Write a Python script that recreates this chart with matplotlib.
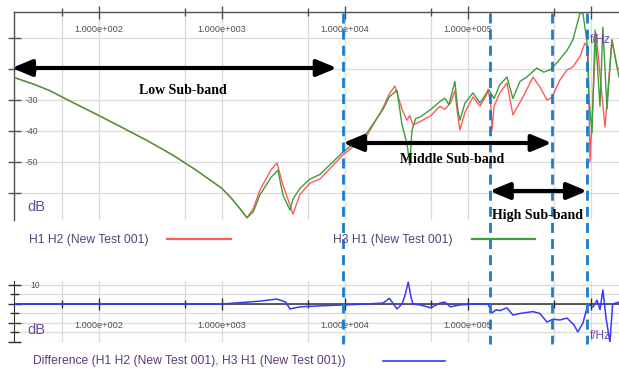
import matplotlib
matplotlib.use("Agg")
import matplotlib.pyplot as plt
from matplotlib.transforms import blended_transform_factory

# H1 H2 (rot) und H3 H1 (gruen), Frequenz in Hz, Pegel in dB
h1h2_freq = [20, 30, 40, 60, 100, 150, 250, 400, 600, 800, 1000, 1200, 1400, 1597, 1800, 2037,
             2500, 2800, 3133, 3573, 3777,
             4305, 5190, 6260, 9640, 15100, 20400, 22900, 25500, 29100, 31900, 33700, 35700,
             40700, 50000, 59200, 64800, 72000, 78300, 82600, 86100, 94500, 109900, 125300,
             141000, 145600, 153000, 156800, 163000, 182000, 207500, 232000, 280000, 337600,
             384700, 438500, 480000, 559700, 638000, 713000, 814400, 893700, 946000, 982000,
             1100000, 1300000, 1480000, 1630000, 1690000]
h1h2_db = [-22.6, -25.0, -27.0, -30.6, -35.0, -38.6, -43.2, -47.8, -52.3, -55.8, -58.5, -61.8,
           -65.0, -68, -65, -59, -52.6, -50.3, -57.4,
           -63.9, -66.8, -60.5, -56.8, -55.5, -47.7, -41.5, -32.5, -28, -25.5, -33, -36.5, -35,
           -38, -37, -35, -32, -33, -31, -27, -35, -39.7, -34, -29, -32, -28.5, -26.5, -31,
           -39.7, -32, -27.7, -24.5, -34.8, -29, -22.6, -25.8, -30, -29.2, -23.5, -20.3, -19.3,
           -16, -11.6, -13, -50, -8.4, -38.7, -10.6, -19.3, -20]

h3h1_freq = [20, 30, 40, 60, 100, 150, 250, 400, 600, 800, 1000, 1200, 1400, 1597, 1800, 2037,
             2500, 2850, 3133, 3573, 3777,
             4305, 5190, 6260, 9640, 15100, 20400, 22900, 26500, 29100, 31900, 33700, 35000,
             37500, 40700, 50000, 59200, 64800, 70000, 78300, 82600, 86100, 94500, 109900,
             125300, 140000, 148600, 163000, 182000, 207500, 232000, 264800, 300000, 362000,
             412000, 464000, 528000, 638000, 713000, 814400, 861000, 930000, 965000, 1020000,
             1080000, 1184000, 1250000, 1350000, 1480000, 1690000]
h3h1_db = [-22.6, -25.0, -27.0, -30.6, -35.0, -38.6, -43.2, -47.8, -52.3, -55.8, -58.5, -61.8,
           -65.0, -68, -66, -60.6, -55, -52.6, -60.6,
           -65.5, -62, -58.5, -55.5, -54, -46.8, -40.6, -33, -29, -26.8, -38, -44, -51, -40,
           -36, -35.5, -33, -30.5, -29.4, -31.5, -24, -33, -36.5, -31, -27.7, -31, -28, -26.8,
           -29.5, -25, -22.6, -29.5, -24, -22.6, -19.7, -21, -20.3, -18, -14, -10.6, -2, -2,
           -11.6, -30, -40.6, -7.4, -32, -6.5, -33, -10.6, -22.6]

diff_freq = [20, 1000, 1276, 2037, 2800, 3300, 3573, 4305, 6260, 9640, 15100, 20400, 23000,
             26500, 29100, 30600, 32700, 34600, 35700, 40700, 50000, 59200, 64800, 72000,
             86100, 109900, 145600, 156800, 170000, 182000, 207500, 232000, 264800, 337600,
             384700, 438500, 491000, 559700, 638000, 727400, 781000, 861000, 946000, 1038000,
             1120000, 1184000, 1250000, 1330000, 1427000, 1500000, 1690000]
diff_db = [0, 0, 0.5, 1.5, 2.6, 1, -2.6, -1.5, -1, -0.5, 0, 0.5, 3, -2.6, 0, 4, 11.5, 3, 0,
           -0.5, -2, 0.5, 1, -1.5, -0.5, 0, 0, -4.7, -3, -3.5, -2, -5.8, -5, -4, -5, -9.5, -8,
           -8.4, -7.4, -11, -14.7, -10, 0, -1.6, 2, -3, 7.4, -8, -20, 0, 1]

# Grenzen der Teilbaender (Hz)
band_edges = [9640, 150000, 480000, 930000]
low_band = (19.6, 8600)
mid_band = (9640, 480000)
high_band = (150000, 930000)

W, H = 619, 374
F_MIN, F_MAX = 20.4, 1.69e6
grid_major = [1e2, 1e3, 1e4, 1e5, 1e6]
grid_minor = [50, 500, 5e3, 5e4, 5e5]
tick_texts = ["1.000e+002", "1.000e+003", "1.000e+004", "1.000e+005"]

RED, GREEN, BLUE = "#ff5a5a", "#3c9e3c", "#3838ff"
DASH = "#1c7ccc"
PURPLE = "#5a3d7a"
SANS = ["Liberation Sans", "DejaVu Sans"]


def fx(x):
    return x / W


def fy(y):
    return 1 - y / H


def px(n):
    # Pixel -> Punkt
    return n * 72 / 100


fig = plt.figure(figsize=(W / 100, H / 100), dpi=100)

# ---- oberes Diagramm ----
ax1 = fig.add_axes([fx(14), fy(220), fx(605), 208 / H])
ax1.set_xscale("log")
ax1.set_xlim(F_MIN, F_MAX)
ax1.set_ylim(-68.7, -1.6)
ax1.plot(h1h2_freq, h1h2_db, color=RED, lw=1.0, zorder=3)
ax1.plot(h3h1_freq, h3h1_db, color=GREEN, lw=1.0, zorder=3)
for f in grid_major + grid_minor:
    ax1.axvline(f, color="#dadada", lw=0.9, zorder=0)
for v in range(-60, 0, 10):
    ax1.axhline(v, color="#dadada", lw=0.9, zorder=0)
for s in ["bottom", "right"]:
    ax1.spines[s].set_visible(False)
for s in ["top", "left"]:
    ax1.spines[s].set_color("#505050")
    ax1.spines[s].set_linewidth(1.0)
ax1.xaxis.tick_top()
ax1.set_xticks(grid_major)
ax1.set_xticks(grid_minor, minor=True)
ax1.tick_params(axis="x", which="major", direction="inout", length=px(13), width=1, color="#505050",
                labeltop=False, labelbottom=False)
ax1.tick_params(axis="x", which="minor", direction="inout", length=px(8), width=1, color="#505050",
                labeltop=False, labelbottom=False)
ax1.set_yticks(range(-60, 0, 10))
ax1.tick_params(axis="y", direction="inout", length=px(13), width=1, color="#505050", labelleft=False)
tr1 = blended_transform_factory(ax1.transData, ax1.transAxes)
for f, t in zip(grid_major, tick_texts):
    ax1.text(f, (220 - 29) / 208, t, transform=tr1, ha="center", va="center", fontsize=6.6,
             color="#505050", family=SANS)
tr1y = blended_transform_factory(ax1.transAxes, ax1.transData)
for v in [-20, -30, -40, -50]:
    ax1.text(12 / 605, v, str(v), transform=tr1y, ha="left", va="center", fontsize=6.2,
             color="#505050", family=SANS)
fig.text(fx(27), fy(207), "dB", fontsize=10.5, color="#6a4c9c", family=SANS, va="center")
fig.text(fx(590), fy(40), "f/Hz", fontsize=8.5, color="#6a4c9c", family=SANS, va="center")

# ---- Legende ----
fig.text(fx(29), fy(240), "H1 H2 (New Test 001)", fontsize=8.7, color=PURPLE, family=SANS, va="center")
fig.add_artist(plt.Line2D([fx(167), fx(231)], [fy(239), fy(239)], color=RED, lw=1.6))
fig.text(fx(333), fy(240), "H3 H1 (New Test 001)", fontsize=8.7, color=PURPLE, family=SANS, va="center")
fig.add_artist(plt.Line2D([fx(472), fx(535)], [fy(239), fy(239)], color=GREEN, lw=1.6))
fig.text(fx(33), fy(361), "Difference (H1 H2 (New Test 001), H3 H1 (New Test 001))", fontsize=8.7,
         color=PURPLE, family=SANS, va="center")
fig.add_artist(plt.Line2D([fx(383), fx(445)], [fy(361), fy(361)], color=BLUE, lw=1.2))

# ---- unteres Diagramm (Differenz) ----
ax2 = fig.add_axes([fx(14), fy(342), fx(605), 61 / H])
ax2.set_xscale("log")
ax2.set_xlim(F_MIN, F_MAX)
ax2.set_ylim(-20, 12.1)
for f in grid_major + grid_minor:
    ax2.axvline(f, color="#dadada", lw=0.9, zorder=0)
for v in range(-20, 15, 5):
    ax2.axhline(v, color="#dadada", lw=0.9, zorder=0)
ax2.axhline(0, color="#303030", lw=1.1, zorder=1)
ax2.plot(grid_major, [0] * len(grid_major), ls="none", marker="|", ms=px(12), mew=1, color="#303030", zorder=1)
ax2.plot(grid_minor, [0] * len(grid_minor), ls="none", marker="|", ms=px(8), mew=1, color="#303030", zorder=1)
ax2.plot(diff_freq, diff_db, color=BLUE, lw=1.1, zorder=3)
for s in ["bottom", "right", "top"]:
    ax2.spines[s].set_visible(False)
ax2.spines["left"].set_color("#303030")
ax2.set_xticks([])
ax2.set_xticks([], minor=True)
ax2.set_yticks([-20, -10, 0, 10])
ax2.set_yticks([-15, -5, 5], minor=True)
ax2.tick_params(axis="y", which="major", direction="inout", length=px(13), width=1, color="#303030",
                labelleft=False)
ax2.tick_params(axis="y", which="minor", direction="inout", length=px(9), width=1, color="#303030")
tr2 = blended_transform_factory(ax2.transData, ax2.transAxes)
for f, t in zip(grid_major, tick_texts):
    ax2.text(f, (342 - 326) / 61, t, transform=tr2, ha="center", va="center", fontsize=6.6,
             color="#505050", family=SANS)
fig.text(fx(30), fy(286), "10", fontsize=6.2, color="#505050", family=SANS, va="center")
fig.text(fx(27), fy(330), "dB", fontsize=10.5, color="#6a4c9c", family=SANS, va="center")
fig.text(fx(590), fy(336), "f/Hz", fontsize=8.5, color="#6a4c9c", family=SANS, va="center")

# ---- Overlay: Teilband-Markierungen ----
ax3 = fig.add_axes([fx(14), 0, fx(605), 1], facecolor="none")
ax3.set_xscale("log")
ax3.set_xlim(F_MIN, F_MAX)
ax3.set_ylim(H, 0)
ax3.axis("off")
ax3.vlines(band_edges, 13, 344, colors=DASH, lw=2.0, linestyles=[(0, (3.6, 2.2))])

arrow_kw = dict(arrowstyle="<|-|>,head_length=1.2,head_width=0.5", lw=3.0, color="black",
                shrinkA=0, shrinkB=0, mutation_scale=10)
for band, yy in [(low_band, 68), (mid_band, 143), (high_band, 191)]:
    ax3.annotate("", xy=(band[1], yy), xytext=(band[0], yy), arrowprops=arrow_kw,
                 annotation_clip=False)

serif = ["Liberation Serif", "DejaVu Serif"]
fig.text(fx(183), fy(91), "Low Sub-band", fontsize=10, fontweight="bold", family=serif,
         ha="center", va="center")
fig.text(fx(452), fy(160), "Middle Sub-band", fontsize=10, fontweight="bold", family=serif,
         ha="center", va="center")
fig.text(fx(538), fy(215), "High Sub-band", fontsize=10, fontweight="bold", family=serif,
         ha="center", va="center")

fig.savefig("out.png", dpi=100)
